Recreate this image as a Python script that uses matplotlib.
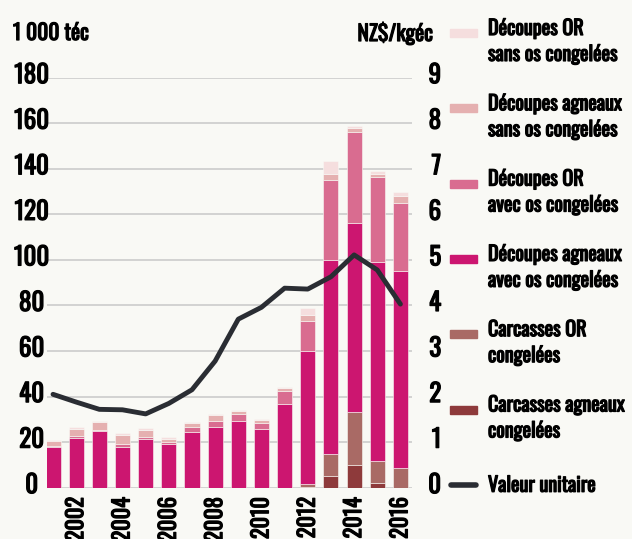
import numpy as np
import matplotlib
matplotlib.use('Agg')
import matplotlib.pyplot as plt
import matplotlib.transforms as mtransforms
import matplotlib.patheffects as pe
from matplotlib.patches import Rectangle
from matplotlib.lines import Line2D

plt.rcParams['font.family'] = ['Oswald', 'Roboto Condensed', 'DejaVu Sans']
plt.rcParams['font.weight'] = 'bold'

years = list(range(2001, 2017))

# volumes (1 000 téc), bottom to top of the stack
carc_agneaux = [0, 0, 0, 0, 0, 0, 0, 0, 0, 0, 0, 0.5, 5.3, 10.0, 1.9, 0]
carc_or = [0, 0, 0, 0, 0, 0, 0, 0, 0, 0, 0, 1.0, 9.5, 23.1, 9.8, 8.5]
dec_ag_avec = [17.9, 22.0, 24.9, 18.0, 21.2, 19.0, 24.6, 26.5, 29.4, 25.9, 36.7,
               58.4, 85.0, 83.2, 87.2, 86.8]
dec_or_avec = [0.4, 0.5, 0.4, 1.0, 1.1, 1.2, 2.0, 2.9, 3.1, 2.6, 5.9,
               13.3, 35.4, 39.8, 37.5, 29.5]
dec_ag_sans = [2.2, 3.4, 3.7, 4.1, 3.0, 1.0, 1.7, 2.6, 1.3, 1.4, 1.3,
               2.6, 2.6, 1.7, 1.3, 3.2]
dec_or_sans = [0.5, 0.6, 0.4, 0.8, 0.7, 0.9, 0.4, 0.3, 0.4, 0.4, 0.4,
               2.9, 5.6, 1.1, 1.3, 1.7]

# valeur unitaire (NZ$/kgéc)
valeur = [2.05, 1.88, 1.72, 1.71, 1.62, 1.85, 2.15, 2.78, 3.70, 3.96, 4.38,
          4.36, 4.63, 5.11, 4.78, 4.03]

series = [
    (carc_agneaux, '#8e3a3b', 'Carcasses agneaux\ncongelées'),
    (carc_or, '#a96a65', 'Carcasses OR\ncongelées'),
    (dec_ag_avec, '#cc1670', 'Découpes agneaux\navec os congelées'),
    (dec_or_avec, '#d96c90', 'Découpes OR\navec os congelées'),
    (dec_ag_sans, '#e5b0b0', 'Découpes agneaux\nsans os congelées'),
    (dec_or_sans, '#f5dede', 'Découpes OR\nsans os congelées'),
]

bg = '#f9f9f5'
thick = [pe.withStroke(linewidth=0.9, foreground='black')]

fig = plt.figure(figsize=(6.32, 5.39), dpi=100, facecolor=bg)
ax = fig.add_axes([47/632, 1-487.7/539, 365/632, 410/539])
ax.set_facecolor(bg)

bottom = np.zeros(len(years))
for vals, col, lab in series:
    ax.bar(years, vals, 0.65, bottom=bottom, color=col, edgecolor=bg, linewidth=0.4, zorder=2)
    bottom += np.array(vals)

ax.set_ylim(0, 180)
ax.set_xlim(2000.74, 2016.5)
ax.set_yticks(range(0, 181, 20))
ax.grid(axis='y', color='#cfcfcf', linewidth=1.3, zorder=0)
for s in ax.spines.values():
    s.set_visible(False)
ax.tick_params(axis='y', length=0, labelsize=18, pad=11)
for t in ax.get_yticklabels():
    t.set_ha('center')
    t.set_path_effects(thick)
    t.set_transform(t.get_transform() + mtransforms.ScaledTranslation(0, 5/100, fig.dpi_scale_trans))
ax.set_xticks(range(2002, 2017, 2))
ax.set_xticklabels([str(y) for y in range(2002, 2017, 2)], rotation=90, fontsize=16)
ax.tick_params(axis='x', length=0, pad=7)
for t in ax.get_xticklabels():
    t.set_va('top')
    t.set_path_effects(thick)

ax2 = ax.twinx()
ax2.plot(years, valeur, color='#2a2d33', linewidth=3.5, zorder=5, solid_capstyle='round')
ax2.set_ylim(0, 9)
ax2.set_yticks(range(0, 10))
for s in ax2.spines.values():
    s.set_visible(False)
ax2.tick_params(axis='y', length=0, labelsize=18, pad=21)
for t in ax2.get_yticklabels():
    t.set_ha('right')
    t.set_path_effects(thick)
    t.set_transform(t.get_transform() + mtransforms.ScaledTranslation(0, 5/100, fig.dpi_scale_trans))

fig.text(13/632, 1-33/539, '1 000 téc', fontsize=15.5, ha='left', va='center', path_effects=thick)
fig.text(433/632, 1-33/539, 'NZ$/kgéc', fontsize=15.5, ha='right', va='center', path_effects=thick)

# legend drawn by hand, handle beside first line
legend_items = list(reversed(series))
for i, (vals, col, lab) in enumerate(legend_items):
    yc = 33 + i*75.3
    fig.patches.append(Rectangle((450/632, 1-(yc+4)/539), 27/632, 8/539,
                                 transform=fig.transFigure, color=col, figure=fig))
    fig.text(488/632, 1-(yc-15)/539, lab, fontsize=14.5, ha='left', va='top', linespacing=1.35,
             path_effects=thick)
yc = 33 + 6*75.3
fig.lines.append(Line2D([451/632, 476/632], [1-yc/539, 1-yc/539], transform=fig.transFigure,
                        color='#2a2d33', linewidth=4, solid_capstyle='round'))
fig.text(488/632, 1-yc/539, 'Valeur unitaire', fontsize=14.5, ha='left', va='center', path_effects=thick)

fig.savefig('out.png', dpi=100, facecolor=bg)
